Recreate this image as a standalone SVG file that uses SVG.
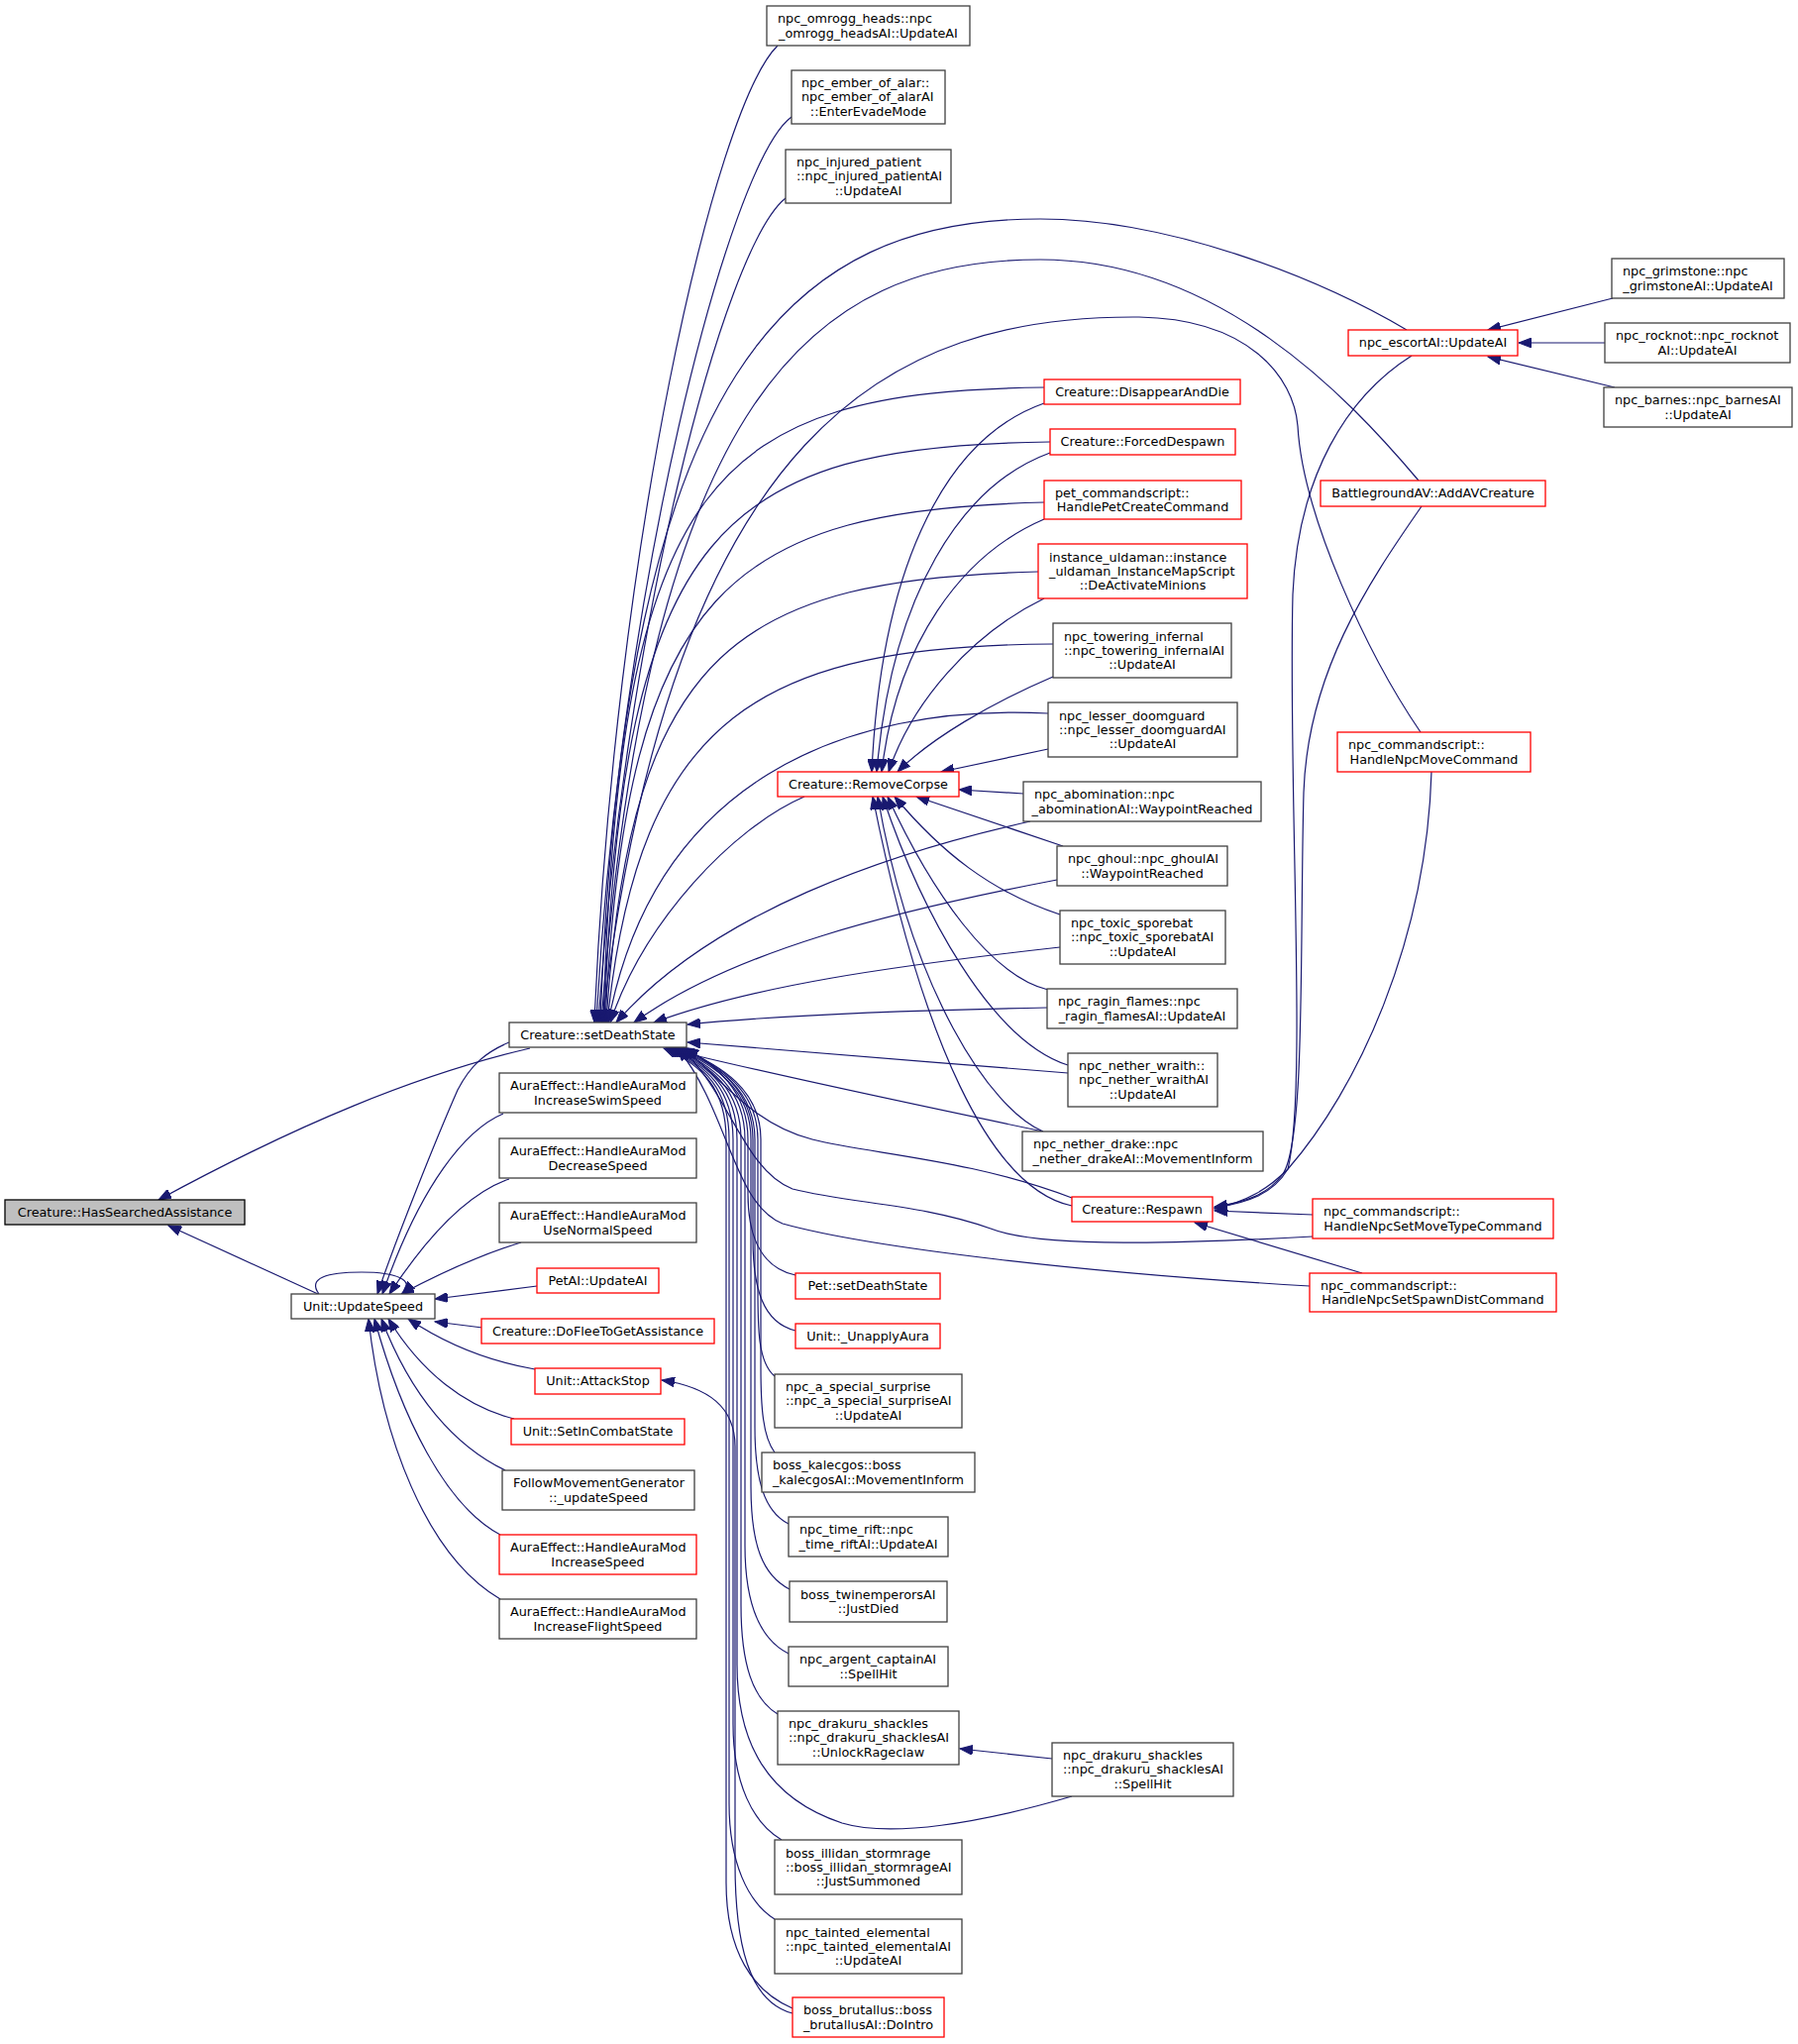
<svg xmlns="http://www.w3.org/2000/svg" width="1815" height="2063" viewBox="0 0 1815 2063">
<style>
.b{fill:#fff;stroke:#404040;stroke-width:1.3}
.r{fill:#fff;stroke:#ff0000;stroke-width:1.3}
.g{fill:#bfbfbf;stroke:#000;stroke-width:1.3}
.e path{fill:none;stroke:#191970;stroke-width:1.2;marker-end:url(#a)}
text{font-family:"DejaVu Sans",sans-serif;font-size:12.8px;fill:#000}
.m{text-anchor:middle}
</style>
<defs>
<marker id="a" markerUnits="userSpaceOnUse" markerWidth="14" markerHeight="10" refX="13" refY="5" orient="auto" viewBox="0 0 14 10">
<path d="M0,0 L13,5 L0,10 z" fill="#191970" stroke="#191970" stroke-width="1"/>
</marker>
</defs>
<rect width="1815" height="2063" fill="#fff"/>
<g id="edges" class="e">
<path d="M 535,1058 C 420,1085 300,1135 160,1211"/>
<path d="M 321,1306 L 170,1237"/>
<path d="M 322,1306 C 310,1290 330,1284 365,1284 C 400,1284 420,1292 406,1306"/>
<path d="M 514,1052 C 490,1062 475,1075 462,1100 C 440,1150 400,1250 381,1306"/>
<path d="M 508,1124 C 470,1140 425,1195 386,1306"/>
<path d="M 514,1190 C 470,1205 430,1250 393,1306"/>
<path d="M 526,1254 C 490,1265 450,1282 405,1306"/>
<path d="M 542,1298 L 439,1311"/>
<path d="M 487,1340 L 439,1334"/>
<path d="M 540,1382 C 500,1375 455,1360 412,1331"/>
<path d="M 519,1432 C 470,1420 425,1385 392,1331"/>
<path d="M 510,1484 C 460,1460 415,1410 385,1331"/>
<path d="M 505,1549 C 450,1520 405,1430 378,1331"/>
<path d="M 505,1614 C 430,1570 385,1450 372,1331"/>
<path d="M 785,46 C 720,110 620,560 600,1032"/>
<path d="M 799,118 C 735,165 625,600 602,1032"/>
<path d="M 793,200 C 730,250 630,640 604,1032"/>
<path d="M 1420,333 C 1330,280 1180,221 1050,221 C 800,221 630,370 606,1032"/>
<path d="M 1432,485 C 1360,400 1230,262 1050,262 C 820,262 655,400 607,1032"/>
<path d="M 1434,739 C 1380,660 1315,520 1310,430 C 1306,380 1260,322 1150,320 C 900,318 680,430 608,1032"/>
<path d="M 1054,391 C 720,395 625,480 609,1032"/>
<path d="M 1060,446 C 730,450 628,530 610,1032"/>
<path d="M 1054,507 C 740,515 632,590 611,1032"/>
<path d="M 1048,577 C 750,585 636,650 612,1032"/>
<path d="M 1063,650 C 770,652 645,720 613,1032"/>
<path d="M 1058,720 C 850,710 660,790 614,1032"/>
<path d="M 812,804 C 740,835 650,930 616,1032"/>
<path d="M 1040,829 C 900,860 720,920 622,1032"/>
<path d="M 1067,888 C 900,920 740,960 640,1032"/>
<path d="M 1070,956 C 900,975 760,995 660,1032"/>
<path d="M 1057,1017 C 900,1020 780,1025 694,1034"/>
<path d="M 1078,1083 C 950,1073 800,1060 694,1052"/>
<path d="M 1053,1142 C 900,1110 760,1080 672,1058"/>
<path d="M 1082,1209 C 980,1170 880,1165 820,1150 C 760,1135 730,1090 690,1058"/>
<path d="M 1325,1248 C 1200,1255 1050,1260 1000,1240 C 930,1215 860,1215 800,1200 C 750,1180 735,1100 687,1058"/>
<path d="M 1322,1298 C 1100,1285 880,1260 790,1235 C 740,1215 735,1120 684,1058"/>
<path d="M 803,1287 C 770,1280 755,1250 755,1205 L 755,1150 C 755,1100 722,1075 692,1058"/>
<path d="M 803,1343 C 770,1335 760,1300 760,1250 L 760,1150 C 760,1100 724,1075 690,1058"/>
<path d="M 782,1389 C 765,1375 765,1340 765,1300 L 765,1150 C 765,1100 726,1075 688,1058"/>
<path d="M 782,1466 C 770,1450 768,1420 768,1380 L 768,1150 C 768,1100 728,1075 686,1058"/>
<path d="M 796,1538 C 770,1525 762,1490 762,1440 L 762,1150 C 762,1100 725,1075 684,1058"/>
<path d="M 797,1604 C 770,1590 758,1560 758,1500 L 758,1150 C 758,1100 723,1075 682,1058"/>
<path d="M 796,1669 C 768,1655 752,1620 752,1560 L 752,1150 C 752,1100 720,1075 680,1058"/>
<path d="M 785,1730 C 760,1715 748,1680 748,1620 L 748,1150 C 748,1100 718,1075 678,1058"/>
<path d="M 1082,1813 C 990,1840 900,1855 850,1840 C 775,1815 744,1760 744,1680 L 744,1150 C 744,1100 716,1075 676,1058"/>
<path d="M 789,1857 C 760,1840 740,1800 740,1740 L 740,1150 C 740,1100 714,1075 674,1058"/>
<path d="M 782,1937 C 755,1920 736,1880 736,1820 L 736,1150 C 736,1100 712,1075 672,1058"/>
<path d="M 800,2027 C 760,2010 733,1970 733,1900 L 733,1150 C 733,1100 710,1075 670,1058"/>
<path d="M 800,2032 C 755,2020 742,1960 742,1880 L 742,1460 C 742,1420 715,1400 668,1393"/>
<path d="M 1054,407 C 960,440 890,560 880,779"/>
<path d="M 1060,457 C 970,490 900,600 885,779"/>
<path d="M 1054,524 C 970,560 905,650 890,779"/>
<path d="M 1054,604 C 980,640 920,710 897,779"/>
<path d="M 1063,683 C 1000,710 940,745 906,779"/>
<path d="M 1058,756 L 950,779"/>
<path d="M 1033,801 L 968,797"/>
<path d="M 1073,854 L 925,804"/>
<path d="M 1070,923 C 1000,900 950,860 903,804"/>
<path d="M 1058,999 C 1000,985 940,900 896,804"/>
<path d="M 1078,1075 C 1000,1050 930,920 891,804"/>
<path d="M 1053,1142 C 1000,1120 920,1000 886,804"/>
<path d="M 1082,1217 C 1000,1200 930,1050 881,804"/>
<path d="M 1425,359 C 1360,400 1310,480 1305,600 C 1300,800 1320,1100 1300,1180 C 1285,1205 1260,1214 1226,1219"/>
<path d="M 1435,511 C 1380,590 1320,680 1316,800 C 1312,950 1318,1150 1295,1185 C 1280,1205 1260,1213 1226,1218"/>
<path d="M 1445,779 C 1440,950 1370,1100 1300,1180 C 1280,1200 1260,1212 1226,1220"/>
<path d="M 1325,1226 L 1226,1222"/>
<path d="M 1375,1285 L 1206,1234"/>
<path d="M 1628,301 L 1502,333"/>
<path d="M 1620,346 L 1533,346"/>
<path d="M 1630,391 L 1502,360"/>
<path d="M 1062,1775 L 969,1765"/>
</g>
<g id="n_hsa"><rect class="g" x="5" y="1211" width="242" height="25"/><text class="m" x="126" y="1227.8">Creature::HasSearchedAssistance</text></g>
<g id="n_us"><rect class="b" x="294" y="1306" width="145" height="25"/><text class="m" x="366.5" y="1322.8">Unit::UpdateSpeed</text></g>
<g id="n_sds"><rect class="b" x="514" y="1032" width="179" height="25"/><text class="m" x="603.5" y="1048.8">Creature::setDeathState</text></g>
<g id="n_swim"><rect class="b" x="504" y="1083" width="199" height="40"/><text x="515" y="1100.2">AuraEffect::HandleAuraMod</text><text class="m" x="603.5" y="1114.5">IncreaseSwimSpeed</text></g>
<g id="n_dec"><rect class="b" x="504" y="1149" width="199" height="40"/><text x="515" y="1166.2">AuraEffect::HandleAuraMod</text><text class="m" x="603.5" y="1180.5">DecreaseSpeed</text></g>
<g id="n_norm"><rect class="b" x="504" y="1214" width="199" height="40"/><text x="515" y="1231.2">AuraEffect::HandleAuraMod</text><text class="m" x="603.5" y="1245.5">UseNormalSpeed</text></g>
<g id="n_petai"><rect class="r" x="542" y="1280" width="123" height="25"/><text class="m" x="603.5" y="1296.8">PetAI::UpdateAI</text></g>
<g id="n_flee"><rect class="r" x="486" y="1331" width="235" height="25"/><text class="m" x="603.5" y="1347.8">Creature::DoFleeToGetAssistance</text></g>
<g id="n_atk"><rect class="r" x="540" y="1381" width="127" height="26"/><text class="m" x="603.5" y="1398.3">Unit::AttackStop</text></g>
<g id="n_combat"><rect class="r" x="516" y="1432" width="175" height="26"/><text class="m" x="603.5" y="1449.3">Unit::SetInCombatState</text></g>
<g id="n_follow"><rect class="b" x="507" y="1484" width="194" height="40"/><text x="518" y="1501.2">FollowMovementGenerator</text><text class="m" x="604" y="1515.5">::_updateSpeed</text></g>
<g id="n_incspd"><rect class="r" x="504" y="1549" width="199" height="40"/><text x="515" y="1566.2">AuraEffect::HandleAuraMod</text><text class="m" x="603.5" y="1580.5">IncreaseSpeed</text></g>
<g id="n_flight"><rect class="b" x="504" y="1614" width="199" height="40"/><text x="515" y="1631.2">AuraEffect::HandleAuraMod</text><text class="m" x="603.5" y="1645.5">IncreaseFlightSpeed</text></g>
<g id="n_omr"><rect class="b" x="774" y="6" width="205" height="40"/><text x="785" y="23.2">npc_omrogg_heads::npc</text><text class="m" x="876.5" y="37.5">_omrogg_headsAI::UpdateAI</text></g>
<g id="n_emb"><rect class="b" x="799" y="71" width="155" height="54"/><text x="809" y="88">npc_ember_of_alar::</text><text x="809" y="102.3">npc_ember_of_alarAI</text><text class="m" x="876.5" y="116.6">::EnterEvadeMode</text></g>
<g id="n_inj"><rect class="b" x="793" y="151" width="167" height="54"/><text x="804" y="168">npc_injured_patient</text><text x="804" y="182.3">::npc_injured_patientAI</text><text class="m" x="876.5" y="196.6">::UpdateAI</text></g>
<g id="n_rc"><rect class="r" x="785" y="779" width="183" height="25"/><text class="m" x="876.5" y="795.8">Creature::RemoveCorpse</text></g>
<g id="n_petsds"><rect class="r" x="803" y="1285" width="146" height="26"/><text class="m" x="876" y="1302.3">Pet::setDeathState</text></g>
<g id="n_unapply"><rect class="r" x="803" y="1336" width="146" height="25"/><text class="m" x="876" y="1352.8">Unit::_UnapplyAura</text></g>
<g id="n_special"><rect class="b" x="782" y="1387" width="189" height="54"/><text x="793" y="1404">npc_a_special_surprise</text><text x="793" y="1418.3">::npc_a_special_surpriseAI</text><text class="m" x="876.5" y="1432.6">::UpdateAI</text></g>
<g id="n_kalec"><rect class="b" x="769" y="1466" width="215" height="40"/><text x="780" y="1483.2">boss_kalecgos::boss</text><text class="m" x="876.5" y="1497.5">_kalecgosAI::MovementInform</text></g>
<g id="n_rift"><rect class="b" x="796" y="1531" width="161" height="40"/><text x="807" y="1548.2">npc_time_rift::npc</text><text class="m" x="876.5" y="1562.5">_time_riftAI::UpdateAI</text></g>
<g id="n_twin"><rect class="b" x="797" y="1596" width="159" height="41"/><text x="808" y="1613.7">boss_twinemperorsAI</text><text class="m" x="876.5" y="1628">::JustDied</text></g>
<g id="n_argent"><rect class="b" x="796" y="1662" width="161" height="40"/><text x="807" y="1679.2">npc_argent_captainAI</text><text class="m" x="876.5" y="1693.5">::SpellHit</text></g>
<g id="n_unlock"><rect class="b" x="785" y="1727" width="183" height="54"/><text x="796" y="1744">npc_drakuru_shackles</text><text x="796" y="1758.3">::npc_drakuru_shacklesAI</text><text class="m" x="876.5" y="1772.6">::UnlockRageclaw</text></g>
<g id="n_illidan"><rect class="b" x="782" y="1857" width="189" height="55"/><text x="793" y="1874.5">boss_illidan_stormrage</text><text x="793" y="1888.8">::boss_illidan_stormrageAI</text><text class="m" x="876.5" y="1903.1">::JustSummoned</text></g>
<g id="n_tainted"><rect class="b" x="782" y="1937" width="189" height="55"/><text x="793" y="1954.5">npc_tainted_elemental</text><text x="793" y="1968.8">::npc_tainted_elementalAI</text><text class="m" x="876.5" y="1983.1">::UpdateAI</text></g>
<g id="n_brut"><rect class="r" x="800" y="2016" width="153" height="40"/><text x="811" y="2033.2">boss_brutallus::boss</text><text class="m" x="876.5" y="2047.5">_brutallusAI::DoIntro</text></g>
<g id="n_dad"><rect class="r" x="1054" y="383" width="198" height="25"/><text class="m" x="1153" y="399.8">Creature::DisappearAndDie</text></g>
<g id="n_fd"><rect class="r" x="1060" y="433" width="187" height="26"/><text class="m" x="1153.5" y="450.3">Creature::ForcedDespawn</text></g>
<g id="n_petcmd"><rect class="r" x="1054" y="485" width="199" height="39"/><text x="1065" y="501.7">pet_commandscript::</text><text class="m" x="1153.5" y="516">HandlePetCreateCommand</text></g>
<g id="n_uld"><rect class="r" x="1048" y="549" width="211" height="55"/><text x="1059" y="566.5">instance_uldaman::instance</text><text x="1059" y="580.8">_uldaman_InstanceMapScript</text><text class="m" x="1153.5" y="595.1">::DeActivateMinions</text></g>
<g id="n_tower"><rect class="b" x="1063" y="629" width="180" height="55"/><text x="1074" y="646.5">npc_towering_infernal</text><text x="1074" y="660.8">::npc_towering_infernalAI</text><text class="m" x="1153" y="675.1">::UpdateAI</text></g>
<g id="n_lesser"><rect class="b" x="1058" y="709" width="191" height="55"/><text x="1069" y="726.5">npc_lesser_doomguard</text><text x="1069" y="740.8">::npc_lesser_doomguardAI</text><text class="m" x="1153.5" y="755.1">::UpdateAI</text></g>
<g id="n_abom"><rect class="b" x="1033" y="789" width="240" height="40"/><text x="1044" y="806.2">npc_abomination::npc</text><text class="m" x="1153" y="820.5">_abominationAI::WaypointReached</text></g>
<g id="n_ghoul"><rect class="b" x="1067" y="854" width="172" height="40"/><text x="1078" y="871.2">npc_ghoul::npc_ghoulAI</text><text class="m" x="1153" y="885.5">::WaypointReached</text></g>
<g id="n_spore"><rect class="b" x="1070" y="919" width="167" height="54"/><text x="1081" y="936">npc_toxic_sporebat</text><text x="1081" y="950.3">::npc_toxic_sporebatAI</text><text class="m" x="1153.5" y="964.6">::UpdateAI</text></g>
<g id="n_ragin"><rect class="b" x="1057" y="998" width="192" height="40"/><text x="1068" y="1015.2">npc_ragin_flames::npc</text><text class="m" x="1153" y="1029.5">_ragin_flamesAI::UpdateAI</text></g>
<g id="n_wraith"><rect class="b" x="1078" y="1063" width="151" height="54"/><text x="1089" y="1080">npc_nether_wraith::</text><text x="1089" y="1094.3">npc_nether_wraithAI</text><text class="m" x="1153.5" y="1108.6">::UpdateAI</text></g>
<g id="n_drake"><rect class="b" x="1032" y="1142" width="243" height="40"/><text x="1043" y="1159.2">npc_nether_drake::npc</text><text class="m" x="1153.5" y="1173.5">_nether_drakeAI::MovementInform</text></g>
<g id="n_respawn"><rect class="r" x="1082" y="1208" width="142" height="25"/><text class="m" x="1153" y="1224.8">Creature::Respawn</text></g>
<g id="n_spellhit"><rect class="b" x="1062" y="1759" width="183" height="54"/><text x="1073" y="1776">npc_drakuru_shackles</text><text x="1073" y="1790.3">::npc_drakuru_shacklesAI</text><text class="m" x="1153.5" y="1804.6">::SpellHit</text></g>
<g id="n_escort"><rect class="r" x="1361" y="333" width="171" height="26"/><text class="m" x="1446.5" y="350.3">npc_escortAI::UpdateAI</text></g>
<g id="n_addav"><rect class="r" x="1333" y="485" width="227" height="26"/><text class="m" x="1446.5" y="502.3">BattlegroundAV::AddAVCreature</text></g>
<g id="n_npcmove"><rect class="r" x="1350" y="739" width="195" height="40"/><text x="1361" y="756.2">npc_commandscript::</text><text class="m" x="1447.5" y="770.5">HandleNpcMoveCommand</text></g>
<g id="n_movetype"><rect class="r" x="1325" y="1210" width="243" height="40"/><text x="1336" y="1227.2">npc_commandscript::</text><text class="m" x="1446.5" y="1241.5">HandleNpcSetMoveTypeCommand</text></g>
<g id="n_spawn"><rect class="r" x="1322" y="1285" width="249" height="39"/><text x="1333" y="1301.7">npc_commandscript::</text><text class="m" x="1446.5" y="1316">HandleNpcSetSpawnDistCommand</text></g>
<g id="n_grim"><rect class="b" x="1627" y="261" width="174" height="40"/><text x="1638" y="278.2">npc_grimstone::npc</text><text class="m" x="1714" y="292.5">_grimstoneAI::UpdateAI</text></g>
<g id="n_rock"><rect class="b" x="1620" y="326" width="187" height="40"/><text x="1631" y="343.2">npc_rocknot::npc_rocknot</text><text class="m" x="1713.5" y="357.5">AI::UpdateAI</text></g>
<g id="n_barnes"><rect class="b" x="1619" y="391" width="190" height="40"/><text x="1630" y="408.2">npc_barnes::npc_barnesAI</text><text class="m" x="1714" y="422.5">::UpdateAI</text></g>
</svg>
